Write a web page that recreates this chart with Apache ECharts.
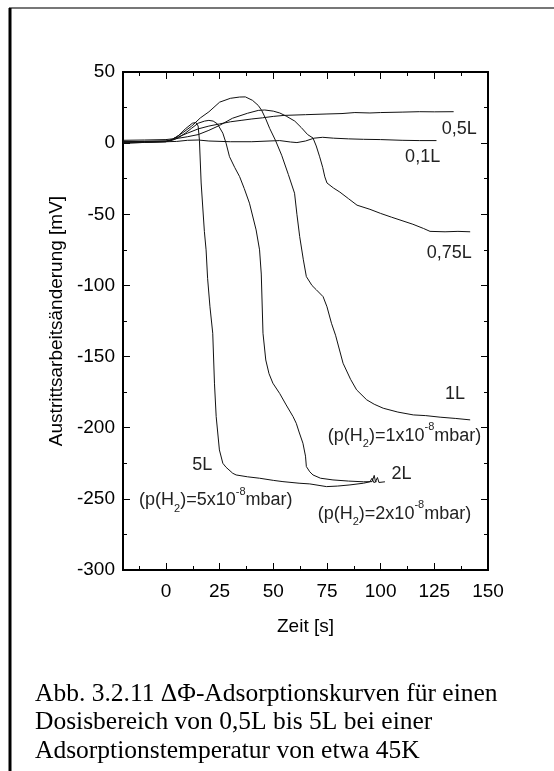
<!DOCTYPE html>
<html>
<head>
<meta charset="utf-8">
<title>Adsorptionskurven</title>
<script src="https://cdn.jsdelivr.net/npm/echarts@6/dist/echarts.min.js"></script>
<style>
  html, body { margin: 0; padding: 0; background: #fff; }
  #chart { width: 554px; height: 771px; }
</style>
</head>
<body>
<div id="chart"></div>
<script>
// Tick values (time axis starts at -20, so ticks are listed explicitly)
const xMajorTicks = [0, 25, 50, 75, 100, 125, 150];
const xMinorTicks = [-12.5, 12.5, 37.5, 62.5, 87.5, 112.5, 137.5];

// Curves: [Zeit s, Austrittsarbeitsänderung mV]
const curve01L = [[-20,0.5],[-10,0.8],[0,1],[5,1.2],[10,2],[15,2.2],[20,1.5],[30,1],[40,1],[48,1.5],[53,1.8],[58,0.8],[61,0.4],[65,1.5],[69,3.5],[73,4.1],[78,3.5],[85,3],[92,2.7],[100,2.5],[110,2],[118,1.8],[126,1.8]];
const curve05L = [[-20,2],[-10,2.2],[0,2.5],[3,3],[6,4.5],[10,7],[15,10],[20,12],[25,13.5],[30,15],[35,16],[40,17],[45,17.8],[50,18.8],[55,19.5],[65,20],[75,20.5],[82,20.8],[88,21.5],[95,21.2],[100,21.5],[110,21.8],[118,22.1],[125,22],[134,22.1]];
const curve075L = [[-20,1],[-10,1.2],[0,1.5],[3,2.5],[6,3.5],[10,4.5],[15,6],[20,9],[25,12.5],[31,17.5],[38,21],[43,23],[46,23.3],[50,22.5],[53,21.2],[56,19],[60,15.5],[63,11],[66,6],[68.5,3.6],[70,-2],[71.6,-9.6],[73,-17],[74,-23.7],[75,-28],[78,-31.5],[81,-34.4],[85,-39],[89,-43.6],[95,-46.5],[100,-49.4],[105,-52],[109,-54],[115,-57],[120,-60],[123,-62],[130,-62.3],[136,-62],[141.7,-62.3]];
const curve1L = [[-20,0],[-10,0.5],[0,1],[2,2],[5,4.5],[8,7.5],[12,12],[16,17.7],[20,22],[25,28.8],[30,31.5],[34.3,32.4],[37,32.5],[40.3,30.1],[43,26.5],[44.6,23],[46.5,17],[48.3,10.4],[51,2],[53.9,-8.5],[57,-22],[59.9,-35.2],[61,-50],[62.3,-65.7],[64,-82],[65.4,-93.8],[68,-100],[70,-103],[73.2,-107.9],[75,-115],[77.1,-126.6],[79,-135],[82.5,-154.7],[86,-166],[88.8,-173.4],[93.5,-180.4],[97,-183.5],[101.2,-186.3],[108,-189],[115.2,-191],[121,-191.5],[127.7,-192.6],[135,-193.5],[141.7,-194.5]];
const curve2L = [[-20,1],[-10,1.2],[0,1.5],[3,2],[6,4],[9,7],[12,10.5],[15,14],[18,15.5],[20,16],[22,15.5],[24,13.5],[26.5,7],[28,0],[29.6,-9.5],[32,-17],[34.3,-23.5],[36.5,-32],[38.9,-42.2],[42,-61],[43.6,-75],[44.4,-92],[45.2,-133.6],[46.5,-152.4],[48,-162],[49.8,-168.7],[53,-176],[56,-184],[59.2,-192.2],[60.7,-196.9],[62,-203],[63.8,-210.9],[65,-220],[65.4,-227.3],[67,-231],[68.5,-233.2],[72,-235.5],[77.8,-236.7],[85,-237.5],[92,-238],[96,-237.9],[97,-233.5],[97.6,-238],[98.5,-235],[99.2,-238.5],[102,-238]];
const curve5L = [[-20,0],[-10,0.5],[0,1],[3,2.5],[6,5.5],[9,10],[12.3,14],[14,14.5],[15,12],[15.6,2],[16.4,-28],[17.9,-62],[18.7,-75],[19.4,-95],[20.5,-115],[21.8,-133.6],[22.6,-168.7],[23.4,-192.2],[24.9,-215.6],[26.5,-225],[28,-227.8],[31.1,-232],[32.7,-233.2],[38,-234.5],[43.6,-235.5],[50,-237],[54.5,-237.9],[62,-239],[67,-239.5],[74.8,-241.4],[80,-241],[85.7,-240.2],[92,-239],[95,-238],[96,-235.5],[96.8,-238.5],[98.1,-237.9]];

const seriesNames = ["0,1L", "0,5L", "0,75L", "1L", "2L", "5L"];
const seriesData = [curve01L, curve05L, curve075L, curve1L, curve2L, curve5L];

// Annotations, anchored in data coordinates (left edge, vertical middle)
const notes = [
  { pos: [128.5, 9.8], text: "0,5L" },
  { pos: [111.4, -9.5], text: "0,1L" },
  { pos: [121.5, -77.2], text: "0,75L" },
  { pos: [130, -176], text: "1L" },
  { pos: [75.4, -205.8], text: "(p(H{sub|2})=1x10{sup|-8}mbar)" },
  { pos: [105.1, -232.5], text: "2L" },
  { pos: [70.7, -260.6], text: "(p(H{sub|2})=2x10{sup|-8}mbar)" },
  { pos: [12.3, -226.1], text: "5L" },
  { pos: [-12.5, -250.8], text: "(p(H{sub|2})=5x10{sup|-8}mbar)" }
];

const captionLines = [
  "Abb. 3.2.11 \u0394\u03A6-Adsorptionskurven f\u00fcr einen",
  "Dosisbereich von 0,5L bis 5L bei einer",
  "Adsorptionstemperatur von etwa 45K"
];

const sans = "'Liberation Sans', Arial, sans-serif";
const black = "#000";

let chart = echarts.init(document.getElementById("chart"), null, { renderer: "canvas" });

// builds one x axis (bottom or top), either with the major or the minor ticks
let xAxisPart = (position, ticks, len, withLabels) => ({
  type: "value",
  min: -20,
  max: 150,
  position: position,
  name: withLabels ? "Zeit [s]" : "",
  nameLocation: "middle",
  nameGap: 47,
  nameTextStyle: { fontFamily: sans, fontSize: 19, color: black },
  axisLine: { show: true, onZero: false, lineStyle: { color: black, width: 2 } },
  axisTick: { show: true, inside: true, length: len, customValues: ticks, lineStyle: { color: black, width: 1 } },
  axisLabel: { show: withLabels, customValues: ticks, fontFamily: sans, fontSize: 19, color: black, margin: 12 },
  splitLine: { show: false }
});

let yAxisPart = (position, withLabels) => ({
  type: "value",
  min: -300,
  max: 50,
  interval: 50,
  position: position,
  name: withLabels ? "Austrittsarbeits\u00e4nderung [mV]" : "",
  nameLocation: "middle",
  nameGap: 44,
  nameRotate: 90,
  nameTextStyle: { fontFamily: sans, fontSize: 19, color: black },
  axisLine: { show: true, onZero: false, lineStyle: { color: black, width: 2 } },
  axisTick: { show: true, inside: true, length: 7, lineStyle: { color: black, width: 1 } },
  minorTick: { show: true, splitNumber: 2, length: 4, lineStyle: { color: black, width: 1 } },
  axisLabel: { show: withLabels, fontFamily: sans, fontSize: 19, color: black, margin: 8 },
  splitLine: { show: false }
});

let option = {
  animation: false,
  backgroundColor: "#fff",
  grid: { left: 123, top: 72, right: 66, bottom: 201 },
  xAxis: [
    xAxisPart("bottom", xMajorTicks, 7, true),
    xAxisPart("bottom", xMinorTicks, 4, false),
    xAxisPart("top", xMajorTicks, 7, false),
    xAxisPart("top", xMinorTicks, 4, false)
  ],
  yAxis: [yAxisPart("left", true), yAxisPart("right", false)],
  series: seriesData.map((d, i) => ({
    name: seriesNames[i],
    type: "line",
    data: d,
    xAxisIndex: 0,
    yAxisIndex: 0,
    showSymbol: false,
    symbol: "none",
    lineStyle: { color: "#111", width: 1 },
    silent: true
  }))
};
chart.setOption(option);

// Annotations and page decorations go in after the axes exist
let graphics = [];

// outer frame of the figure page (top and left edges)
graphics.push({ type: "line", shape: { x1: 9, y1: 8, x2: 554, y2: 8 }, style: { stroke: "#777", lineWidth: 2 } });
graphics.push({ type: "line", shape: { x1: 10, y1: 8, x2: 10, y2: 771 }, style: { stroke: black, lineWidth: 3 } });

notes.forEach((n) => {
  let p = chart.convertToPixel({ gridIndex: 0 }, n.pos);
  graphics.push({
    type: "text",
    x: p[0],
    y: p[1],
    style: {
      text: n.text,
      fill: "#222",
      fontFamily: sans,
      fontSize: 18,
      align: "left",
      verticalAlign: "middle",
      rich: {
        sub: { fontSize: 11, fontFamily: sans, fill: "#222", verticalAlign: "bottom", lineHeight: 12 },
        sup: { fontSize: 11, fontFamily: sans, fill: "#222", verticalAlign: "top", lineHeight: 12 }
      },
      lineHeight: 28
    }
  });
});

graphics.push({
  type: "text",
  x: 35,
  y: 680,
  style: {
    text: captionLines.join("\n"),
    fill: black,
    fontFamily: "'Liberation Serif', 'Times New Roman', serif",
    fontSize: 25.5,
    lineHeight: 28.5,
    align: "left",
    verticalAlign: "top"
  }
});

chart.setOption({ graphic: graphics });
</script>
</body>
</html>
